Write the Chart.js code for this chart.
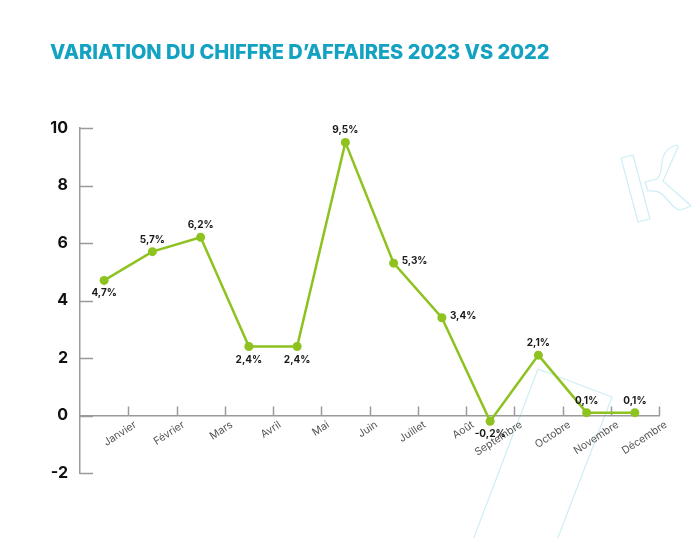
<!DOCTYPE html>
<html>
<head>
<meta charset="utf-8">
<script src="https://cdn.jsdelivr.net/npm/chart.js@4.4.1/dist/chart.umd.min.js"></script>
<style>
  html, body { margin: 0; padding: 0; background: #fff; }
  #wrap { width: 700px; height: 538px; }
</style>
</head>
<body>
<div id="wrap"><canvas id="myChart" width="700" height="538"></canvas></div>
<script>
const months = ["Janvier", "Février", "Mars", "Avril", "Mai", "Juin", "Juillet", "Août", "Septembre", "Octobre", "Novembre", "Décembre"];
const variation = [4.7, 5.7, 6.2, 2.4, 2.4, 9.5, 5.3, 3.4, -0.2, 2.1, 0.1, 0.1];
const yTicks = [-2, 0, 2, 4, 6, 8, 10];

const GREEN = "#8dc21f";
const AXIS = "#9a9a9a";
const FONT = "Inter, 'Open Sans', sans-serif";

// where each value label sits relative to its point
const labelSide = ["below", "above", "above", "below", "below", "above", "right", "right", "below", "above", "above", "above"];

const fmt = (v) => v.toFixed(1).replace(".", ",") + "%";

// light logo outlines in the background
const watermark = {
  id: "watermark",
  beforeDraw(chart) {
    const ctx = chart.ctx;
    ctx.save();
    ctx.strokeStyle = "#cdeef5";
    ctx.lineWidth = 1.2;
    ctx.lineJoin = "round";
    ctx.beginPath();
    ctx.moveTo(473, 540);
    ctx.lineTo(538, 369);
    ctx.lineTo(612, 397);
    ctx.lineTo(557, 540);
    ctx.stroke();
    // top right "K"
    ctx.beginPath();
    ctx.moveTo(621, 158);
    ctx.lineTo(633, 155);
    ctx.lineTo(650, 219);
    ctx.lineTo(638, 222);
    ctx.closePath();
    ctx.stroke();
    ctx.beginPath();
    ctx.moveTo(645, 182);
    ctx.lineTo(657, 179);
    ctx.quadraticCurveTo(661, 176, 662, 162);
    ctx.quadraticCurveTo(664, 148, 677, 145);
    ctx.lineTo(678, 147);
    ctx.quadraticCurveTo(668, 170, 663, 181);
    ctx.lineTo(688, 203);
    ctx.lineTo(691, 206);
    ctx.lineTo(681, 210);
    ctx.quadraticCurveTo(677, 210, 674, 207);
    ctx.lineTo(662, 194);
    ctx.quadraticCurveTo(657, 190, 648, 191);
    ctx.closePath();
    ctx.stroke();
    ctx.restore();
  },
};

// inward tick marks on both axes
const innerTicks = {
  id: "innerTicks",
  beforeDatasetsDraw(chart) {
    const { ctx, scales: { x, y } } = chart;
    const x0 = x.getPixelForValue(0);
    const y0 = y.getPixelForValue(0);
    ctx.save();
    ctx.strokeStyle = AXIS;
    ctx.lineWidth = 1.5;
    ctx.beginPath();
    yTicks.forEach((v) => {
      const py = Math.round(y.getPixelForValue(v)) + 0.5;
      ctx.moveTo(x0, py);
      ctx.lineTo(x0 + 13, py);
    });
    months.forEach((m, i) => {
      const px = Math.round(x.getPixelForValue(i + 1)) + 0.5;
      ctx.moveTo(px, y0);
      ctx.lineTo(px, y0 - 9);
    });
    ctx.stroke();
    ctx.restore();
  },
};

const valueLabels = {
  id: "valueLabels",
  afterDatasetsDraw(chart) {
    const ctx = chart.ctx;
    const meta = chart.getDatasetMeta(0);
    ctx.save();
    ctx.fillStyle = "#1a1a1a";
    ctx.font = "bold 10px " + FONT;
    ctx.textBaseline = "middle";
    meta.data.forEach((pt, i) => {
      const side = labelSide[i];
      const txt = fmt(variation[i]);
      if (side === "right") {
        ctx.textAlign = "left";
        ctx.fillText(txt, pt.x + 8, pt.y - 2);
      } else {
        ctx.textAlign = "center";
        ctx.fillText(txt, pt.x, side === "above" ? pt.y - 12 : pt.y + 13);
      }
    });
    ctx.restore();
  },
};

const canvas = document.getElementById("myChart");
const myChart = new Chart(canvas, {
  type: "line",
  data: {
    datasets: [
      {
        label: "Variation",
        data: variation.map((v, i) => ({ x: i + 0.5, y: v })),
        borderColor: GREEN,
        backgroundColor: GREEN,
        borderWidth: 2.5,
        pointRadius: 4.5,
        pointBackgroundColor: GREEN,
        pointBorderWidth: 0,
        tension: 0,
      },
    ],
  },
  options: {
    responsive: false,
    animation: false,
    layout: { padding: { left: 50, right: 41, top: 0, bottom: 65 } },
    plugins: {
      legend: { display: false },
      tooltip: { enabled: false },
      title: {
        display: true,
        text: "VARIATION DU CHIFFRE D’AFFAIRES 2023 VS 2022",
        align: "start",
        color: "#14a2c3",
        font: { family: FONT, size: 20, weight: "800" },
        padding: { top: 41, bottom: 63 },
      },
    },
    scales: {
      x: {
        type: "linear",
        position: { y: 0 },
        min: 0,
        max: 12,
        grid: { display: false, drawTicks: false },
        border: { color: AXIS, width: 1.5 },
        ticks: {
          stepSize: 1,
          autoSkip: false,
          minRotation: 33,
          maxRotation: 33,
          padding: 3,
          labelOffset: 7,
          color: "#555",
          font: { family: FONT, size: 10.5 },
          callback: (v) => months[v - 1] || "",
        },
      },
      y: {
        min: -2,
        max: 10,
        grid: { display: false, drawTicks: false },
        border: { color: AXIS, width: 1.5 },
        afterFit: (scale) => { scale.width = 30; },
        ticks: {
          stepSize: 2,
          padding: 12,
          color: "#111",
          font: { family: FONT, size: 16, weight: "bold" },
        },
      },
    },
  },
  plugins: [watermark, innerTicks, valueLabels],
});
</script>
</body>
</html>
